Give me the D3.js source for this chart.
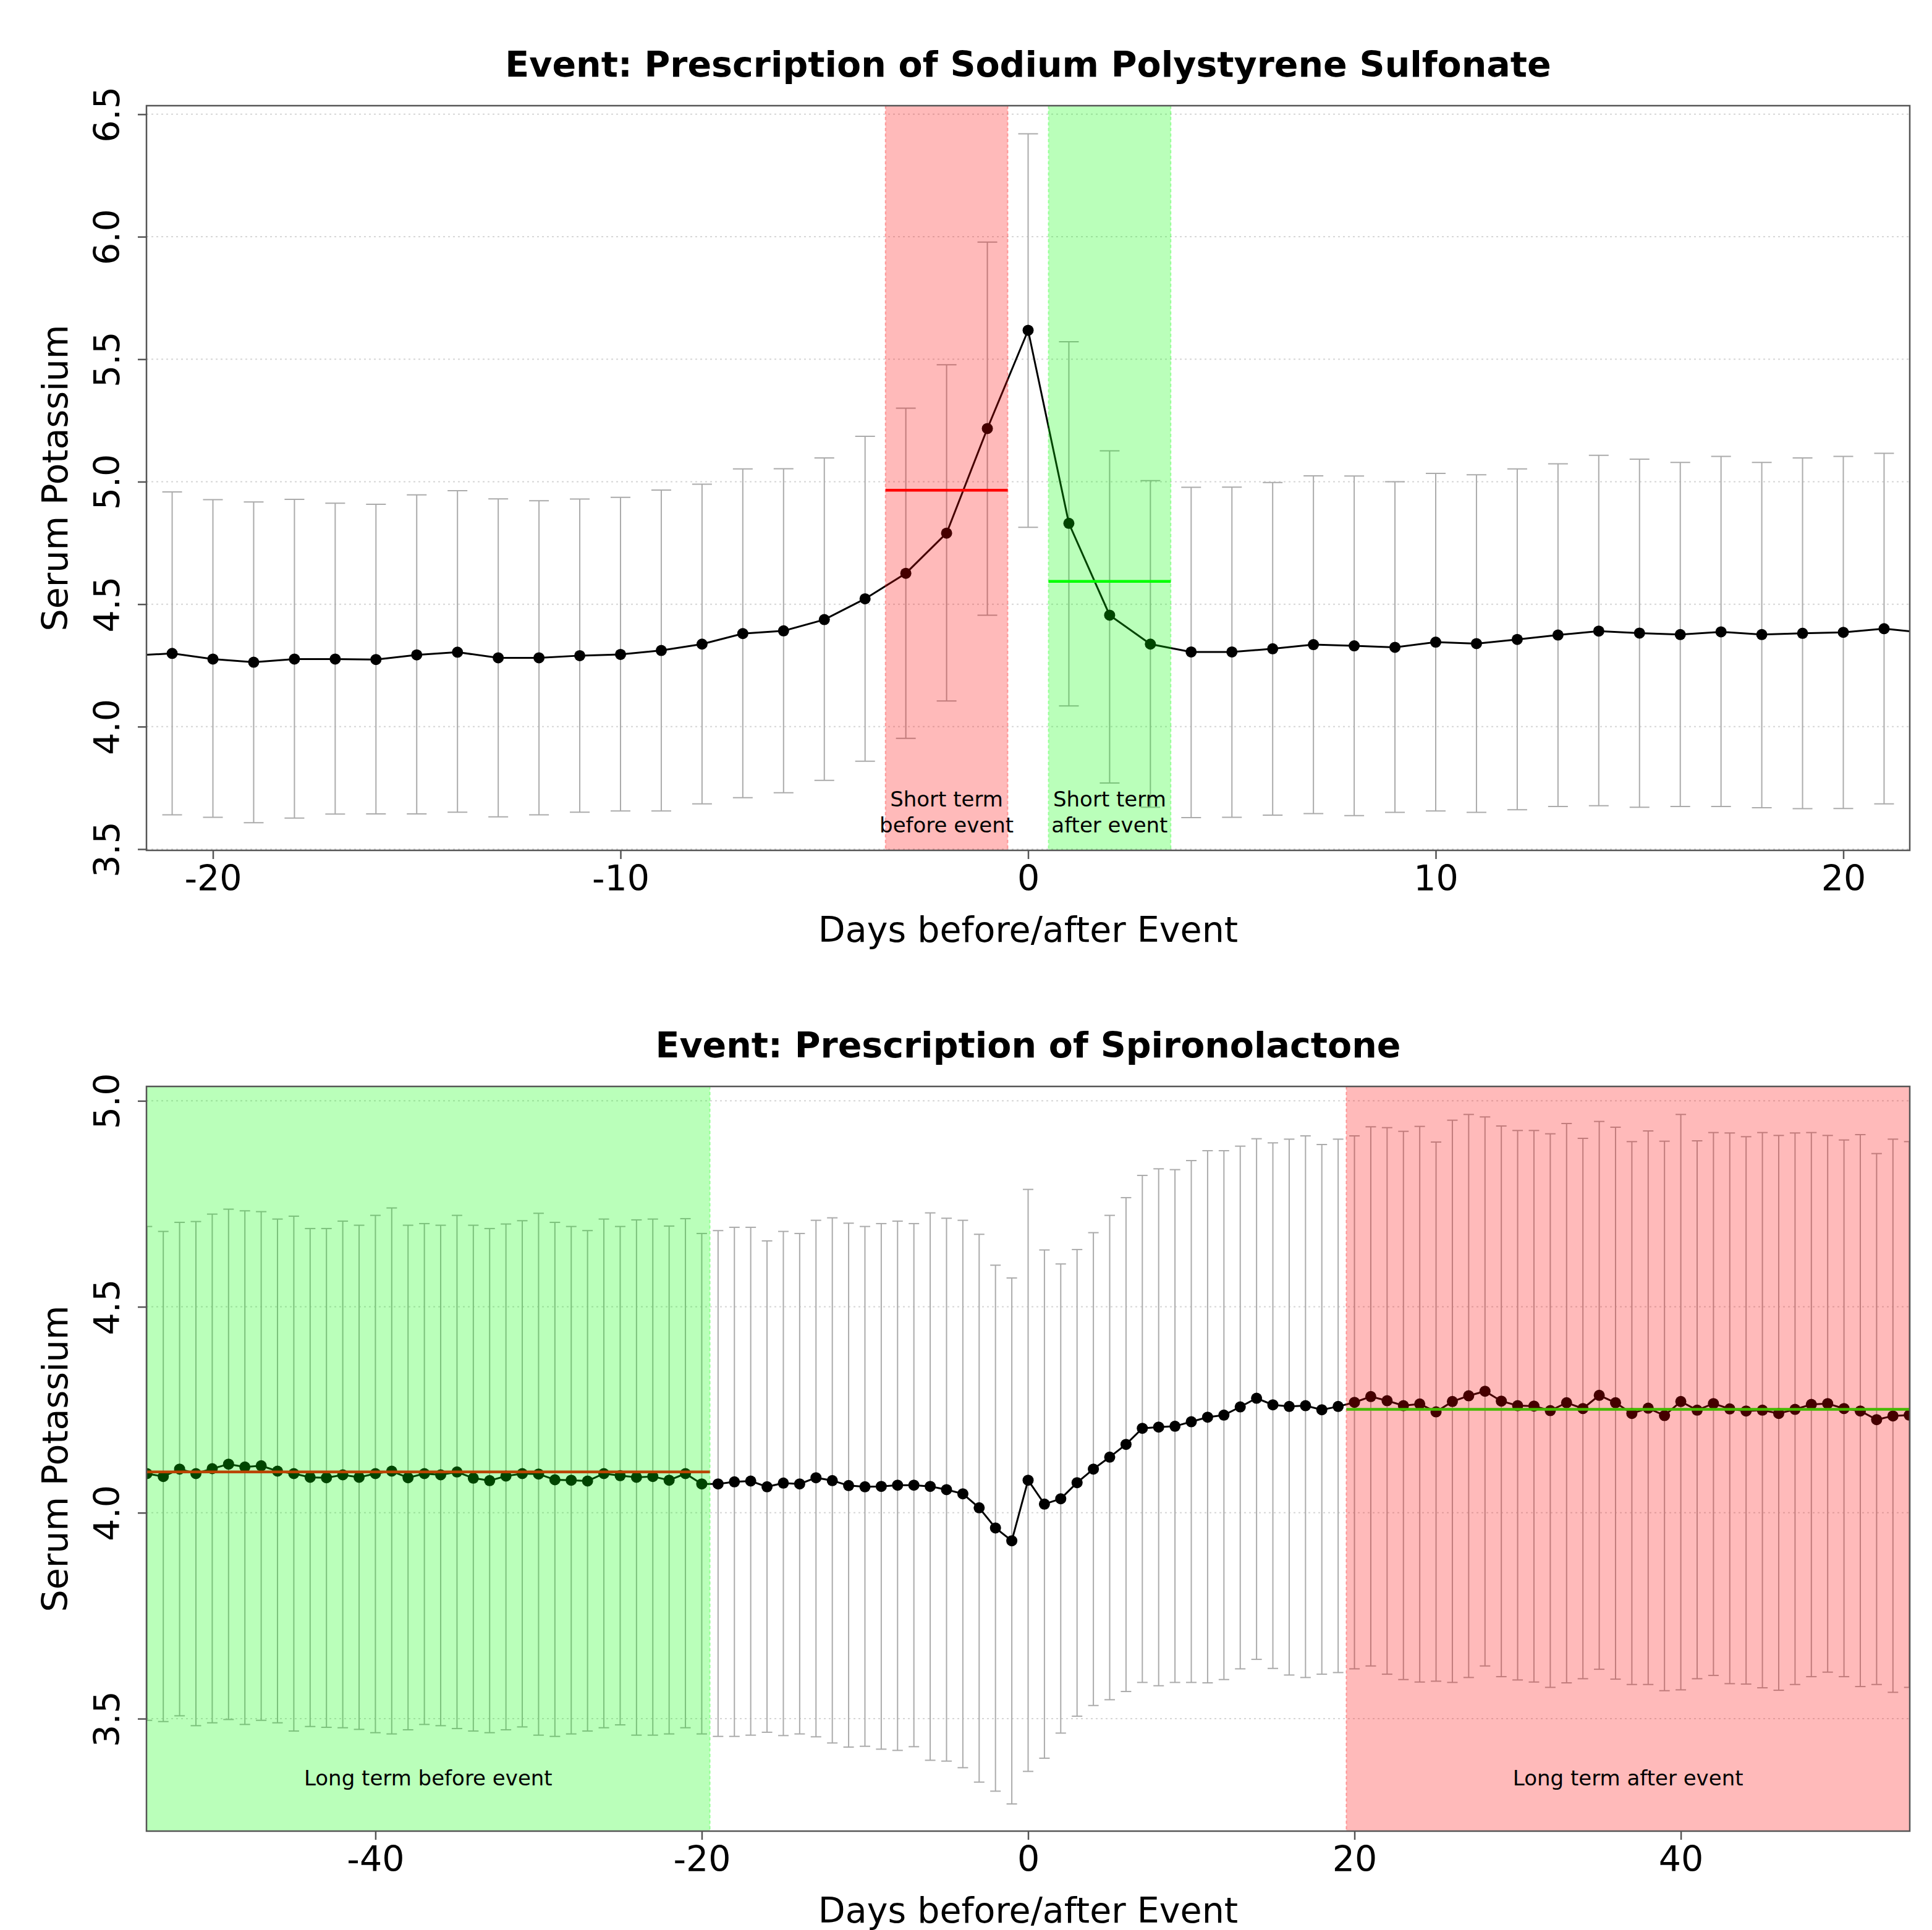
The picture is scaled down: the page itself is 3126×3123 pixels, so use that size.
<!DOCTYPE html>
<meta charset="utf-8">
<html>
<style>
body { margin: 0; background: #fff; }
text { font-family: "DejaVu Sans", sans-serif; fill: #000; }
</style>
<svg width="3126" height="3123"></svg>
<script src="https://d3js.org/d3.v7.min.js"></script>
<script>
// ---- panel 1: Sodium Polystyrene Sulfonate (days -22..22) ----
var spsDays = d3.range(-22, 23);
var spsMean = [4.29, 4.299, 4.276, 4.263, 4.276, 4.276, 4.274, 4.293, 4.304, 4.281, 4.281,
  4.290, 4.295, 4.311, 4.337, 4.380, 4.391, 4.437, 4.522, 4.626, 4.790, 5.217, 5.618,
  4.830, 4.455, 4.337, 4.305, 4.305, 4.318, 4.335, 4.330, 4.324, 4.345, 4.339, 4.356,
  4.374, 4.390, 4.382, 4.376, 4.387, 4.376, 4.381, 4.385, 4.400, 4.383];
var spsLow = [3.64, 3.640, 3.630, 3.608, 3.627, 3.643, 3.644, 3.644, 3.651, 3.632, 3.640,
  3.651, 3.656, 3.656, 3.685, 3.710, 3.730, 3.781, 3.859, 3.952, 4.105, 4.455, 4.814,
  4.085, 3.770, 3.671, 3.629, 3.630, 3.639, 3.645, 3.637, 3.650, 3.656, 3.650, 3.661,
  3.674, 3.677, 3.671, 3.674, 3.674, 3.669, 3.665, 3.666, 3.685, 3.68];
var spsHigh = [4.95, 4.958, 4.927, 4.917, 4.928, 4.912, 4.908, 4.946, 4.963, 4.930, 4.922,
  4.929, 4.936, 4.966, 4.990, 5.052, 5.053, 5.097, 5.185, 5.300, 5.477, 5.978, 6.420,
  5.571, 5.126, 5.004, 4.977, 4.978, 4.997, 5.024, 5.023, 5.000, 5.034, 5.028, 5.052,
  5.073, 5.108, 5.092, 5.079, 5.103, 5.079, 5.097, 5.103, 5.116, 5.10];
var spsXTicks = [-20, -10, 0, 10, 20];
var spsYTicks = [3.5, 4.0, 4.5, 5.0, 5.5, 6.0, 6.5];
var spsWindows = [
  {from: -3.5, to: -0.5, level: 4.965, label: ["Short term", "before event"]},
  {from: 0.5, to: 3.5, level: 4.593, label: ["Short term", "after event"]}
];

// ---- panel 2: Spironolactone (days -54..54) ----
var spiDays = d3.range(-54, 55);
var spiMean = [4.095, 4.088, 4.106, 4.095, 4.107, 4.118, 4.111, 4.114, 4.101, 4.095,
  4.086, 4.085, 4.092, 4.086, 4.095, 4.101, 4.085, 4.095, 4.092, 4.099,
  4.084, 4.078, 4.089, 4.095, 4.094, 4.080, 4.079, 4.077, 4.095, 4.090,
  4.086, 4.088, 4.079, 4.095, 4.070, 4.070, 4.075, 4.077,
  4.063, 4.072, 4.070, 4.085, 4.078, 4.066, 4.063, 4.064, 4.067, 4.067,
  4.064, 4.056, 4.046, 4.012, 3.963, 3.932, 4.079, 4.021, 4.034, 4.073,
  4.106, 4.135, 4.166, 4.205, 4.208, 4.210, 4.221, 4.232, 4.237, 4.257,
  4.278, 4.262, 4.258, 4.260, 4.250, 4.258, 4.268,
  4.282, 4.272, 4.260, 4.264, 4.245, 4.270, 4.284, 4.295, 4.271, 4.260,
  4.259, 4.248, 4.267, 4.253, 4.285, 4.267, 4.241, 4.254, 4.236, 4.270,
  4.249, 4.265, 4.252, 4.247, 4.249, 4.241, 4.251, 4.263, 4.265, 4.253,
  4.247, 4.226, 4.235, 4.237];
var spiLow = [3.496, 3.493, 3.507, 3.483, 3.490, 3.498, 3.486, 3.496, 3.490, 3.470,
  3.481, 3.479, 3.478, 3.474, 3.466, 3.463, 3.473, 3.486, 3.483, 3.476,
  3.470, 3.466, 3.473, 3.480, 3.460, 3.457, 3.463, 3.470, 3.478, 3.485,
  3.460, 3.460, 3.463, 3.478, 3.463, 3.457, 3.457, 3.460,
  3.467, 3.459, 3.463, 3.456, 3.441, 3.431, 3.433, 3.426, 3.423, 3.432,
  3.399, 3.397, 3.381, 3.346, 3.324, 3.293, 3.372, 3.404, 3.465, 3.506,
  3.532, 3.546, 3.566, 3.588, 3.580, 3.588, 3.588, 3.587, 3.595, 3.621,
  3.644, 3.622, 3.606, 3.600, 3.608, 3.612, 3.621,
  3.628, 3.608, 3.595, 3.589, 3.591, 3.588, 3.600, 3.628, 3.602, 3.594,
  3.589, 3.576, 3.587, 3.597, 3.620, 3.596, 3.583, 3.583, 3.568, 3.570,
  3.597, 3.605, 3.585, 3.584, 3.575, 3.569, 3.583, 3.602, 3.613, 3.602,
  3.578, 3.583, 3.564, 3.576];
var spiHigh = [4.695, 4.683, 4.705, 4.707, 4.725, 4.737, 4.733, 4.731, 4.713, 4.720,
  4.690, 4.690, 4.708, 4.698, 4.722, 4.740, 4.698, 4.702, 4.698, 4.722,
  4.698, 4.690, 4.701, 4.709, 4.727, 4.705, 4.695, 4.685, 4.713, 4.695,
  4.711, 4.713, 4.696, 4.714, 4.678, 4.685, 4.693, 4.693,
  4.660, 4.683, 4.678, 4.710, 4.716, 4.703, 4.695, 4.702, 4.708, 4.702,
  4.728, 4.715, 4.710, 4.676, 4.601, 4.570, 4.785, 4.638, 4.604, 4.639,
  4.680, 4.722, 4.765, 4.819, 4.835, 4.833, 4.855, 4.879, 4.879, 4.890,
  4.908, 4.898, 4.907, 4.915, 4.894, 4.907, 4.915,
  4.937, 4.935, 4.926, 4.938, 4.900, 4.953, 4.967, 4.961, 4.939, 4.928,
  4.928, 4.920, 4.945, 4.909, 4.950, 4.936, 4.901, 4.927, 4.902, 4.967,
  4.903, 4.923, 4.922, 4.913, 4.923, 4.916, 4.922, 4.923, 4.916, 4.905,
  4.918, 4.872, 4.907, 4.901];
var spiXTicks = [-40, -20, 0, 20, 40];
var spiYTicks = [3.5, 4.0, 4.5, 5.0];
var spiWindows = [
  {from: -54.03, to: -19.5, level: 4.099, label: ["Long term before event"]},
  {from: 19.5, to: 54.03, level: 4.251, label: ["Long term after event"]}
];

var svg = d3.select("svg");
svg.append("rect").attr("width", 3126).attr("height", 3123).attr("fill", "#fff");

var boxLeft = 237, boxRight = 3090;

function drawPanel(p) {
  var x = d3.scaleLinear().domain(p.xDomain).range([boxLeft, boxRight]);
  var y = d3.scaleLinear().domain(p.yDomain).range([p.bottom, p.top]);
  var g = svg.append("g");

  svg.append("clipPath").attr("id", "clip" + p.id)
    .append("rect")
    .attr("x", boxLeft).attr("y", p.top)
    .attr("width", boxRight - boxLeft).attr("height", p.bottom - p.top);

  // dotted horizontal grid
  g.append("g").selectAll("line")
    .data(p.yTicks)
    .join("line")
      .attr("x1", boxLeft).attr("x2", boxRight)
      .attr("y1", d => y(d)).attr("y2", d => y(d))
      .attr("stroke", "#d6d6d6")
      .attr("stroke-width", 2)
      .attr("stroke-dasharray", "3,5");

  var rows = p.days.map((d, i) => ({day: d, mean: p.mean[i], lo: p.low[i], hi: p.high[i]}));
  var plot = g.append("g").attr("clip-path", "url(#clip" + p.id + ")");

  // error bars
  var eb = plot.append("g").attr("stroke", "#ababab").attr("stroke-width", 2);
  eb.selectAll(".stem").data(rows).join("line").attr("class", "stem")
    .attr("x1", d => x(d.day)).attr("x2", d => x(d.day))
    .attr("y1", d => y(d.lo)).attr("y2", d => y(d.hi));
  eb.selectAll(".capHi").data(rows).join("line").attr("class", "capHi")
    .attr("x1", d => x(d.day) - p.cap).attr("x2", d => x(d.day) + p.cap)
    .attr("y1", d => y(d.hi)).attr("y2", d => y(d.hi));
  eb.selectAll(".capLo").data(rows).join("line").attr("class", "capLo")
    .attr("x1", d => x(d.day) - p.cap).attr("x2", d => x(d.day) + p.cap)
    .attr("y1", d => y(d.lo)).attr("y2", d => y(d.lo));

  // mean line + points
  plot.append("path").datum(rows)
    .attr("fill", "none")
    .attr("stroke", "#000")
    .attr("stroke-width", 3)
    .attr("d", d3.line().x(d => x(d.day)).y(d => y(d.mean)));
  plot.append("g").selectAll("circle")
    .data(rows)
    .join("circle")
      .attr("cx", d => x(d.day))
      .attr("cy", d => y(d.mean))
      .attr("r", 9)
      .attr("fill", "#000");

  // window mean lines, then translucent windows on top
  p.windows.forEach((w, i) => {
    plot.append("line")
      .attr("x1", x(w.from)).attr("x2", x(w.to))
      .attr("y1", y(w.level)).attr("y2", y(w.level))
      .attr("stroke", p.lineColors[i]).attr("stroke-width", 4.5);
  });
  p.windows.forEach((w, i) => {
    plot.append("rect")
      .attr("x", x(w.from)).attr("width", x(w.to) - x(w.from))
      .attr("y", p.top).attr("height", p.bottom - p.top)
      .attr("fill", p.fillColors[i]).attr("fill-opacity", 0.27);
    [w.from, w.to].forEach(v => {
      plot.append("line")
        .attr("x1", x(v)).attr("x2", x(v))
        .attr("y1", p.top).attr("y2", p.bottom)
        .attr("stroke", p.fillColors[i]).attr("stroke-opacity", 0.3)
        .attr("stroke-width", 2).attr("stroke-dasharray", "5,4");
    });
    var t = g.append("text")
      .attr("text-anchor", "middle")
      .style("font-size", "34px")
      .attr("fill", "#111");
    w.label.forEach((s, k) => {
      t.append("tspan")
        .attr("x", x((w.from + w.to) / 2))
        .attr("y", p.labelY + k * 42)
        .text(s);
    });
  });

  // box
  g.append("rect")
    .attr("x", boxLeft).attr("y", p.top)
    .attr("width", boxRight - boxLeft).attr("height", p.bottom - p.top)
    .attr("fill", "none").attr("stroke", "#555").attr("stroke-width", 2.5);

  // axes
  var xa = g.append("g").attr("transform", "translate(0," + p.bottom + ")")
    .call(d3.axisBottom(x).tickValues(p.xTicks).tickSize(14).tickFormat(d => String(d)));
  xa.select(".domain").remove();
  xa.selectAll("line").attr("stroke", "#555").attr("stroke-width", 2.5);
  xa.selectAll("text")
    .attr("y", 65).attr("dy", null)
    .attr("font-family", "DejaVu Sans")
    .style("font-size", "57px").attr("fill", "#000");

  var ya = g.append("g").attr("transform", "translate(" + boxLeft + ",0)")
    .call(d3.axisLeft(y).tickValues(p.yTicks).tickSize(14).tickFormat(d3.format(".1f")));
  ya.select(".domain").remove();
  ya.selectAll("line").attr("stroke", "#555").attr("stroke-width", 2.5);
  ya.selectAll("text")
    .attr("x", null).attr("dy", null)
    .attr("text-anchor", "middle")
    .attr("transform", "translate(-44,0) rotate(-90)")
    .attr("font-family", "DejaVu Sans")
    .style("font-size", "57px").attr("fill", "#000");

  // titles
  var cx = (boxLeft + boxRight) / 2;
  g.append("text")
    .attr("x", cx).attr("y", p.top - 47)
    .attr("text-anchor", "middle")
    .style("font-size", "57px").style("font-weight", "bold")
    .text(p.title);
  g.append("text")
    .attr("x", cx).attr("y", p.bottom + 148)
    .attr("text-anchor", "middle")
    .style("font-size", "57px")
    .text("Days before/after Event");
  g.append("text")
    .attr("transform", "translate(109," + (p.top + p.bottom) / 2 + ") rotate(-90)")
    .attr("text-anchor", "middle")
    .style("font-size", "57px")
    .text("Serum Potassium");
}

drawPanel({
  id: 1, top: 171, bottom: 1376,
  xDomain: [-21.63, 21.63], yDomain: [3.495, 6.535],
  days: spsDays, mean: spsMean, low: spsLow, high: spsHigh,
  xTicks: spsXTicks, yTicks: spsYTicks, windows: spsWindows,
  fillColors: ["#ff0000", "#00ff00"], lineColors: ["#ff0000", "#00ff00"],
  cap: 16, labelY: 1305,
  title: "Event: Prescription of Sodium Polystyrene Sulfonate"
});

drawPanel({
  id: 2, top: 1758, bottom: 2963,
  xDomain: [-54.03, 54.03], yDomain: [3.227, 5.035],
  days: spiDays, mean: spiMean, low: spiLow, high: spiHigh,
  xTicks: spiXTicks, yTicks: spiYTicks, windows: spiWindows,
  fillColors: ["#00ff00", "#ff0000"], lineColors: ["#ff0000", "#00ff00"],
  cap: 8.5, labelY: 2889,
  title: "Event: Prescription of Spironolactone"
});
</script>
</html>
